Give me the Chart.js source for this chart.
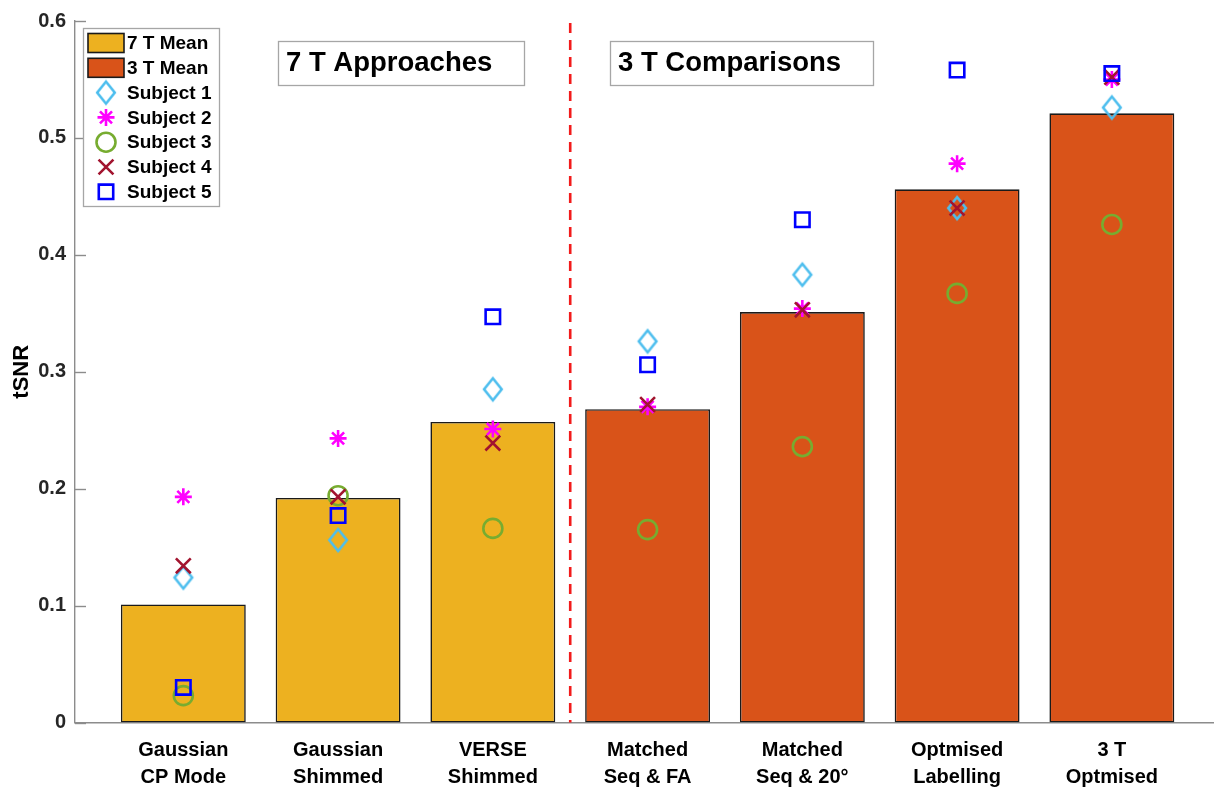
<!DOCTYPE html>
<html>
<head>
<meta charset="utf-8">
<title>tSNR by approach</title>
<script src="https://cdn.jsdelivr.net/npm/chart.js@4.4.1/dist/chart.umd.min.js"></script>
<style>
  html, body { margin: 0; padding: 0; background: #ffffff; overflow: hidden; }
  #wrap { width: 1214px; height: 791px; position: relative; }
  #wrap canvas { display: block; }
</style>
</head>
<body>
<div id="wrap"><canvas id="chart"></canvas></div>
<script>
// Category labels (two lines each)
const categories = [
  ['Gaussian', 'CP Mode'],
  ['Gaussian', 'Shimmed'],
  ['VERSE', 'Shimmed'],
  ['Matched', 'Seq & FA'],
  ['Matched', 'Seq & 20°'],
  ['Optmised', 'Labelling'],
  ['3 T', 'Optmised']
];
const categoryPositions = [1, 2, 3, 4, 5, 6, 7];

// Group means (first three 7 T, last four 3 T)
const mean7T = [0.101, 0.192, 0.257];
const mean3T = [0.268, 0.351, 0.456, 0.521];

// Per-subject tSNR values for each category
const subject1 = [0.124, 0.156, 0.285, 0.326, 0.383, 0.440, 0.526];
const subject2 = [0.193, 0.243, 0.251, 0.270, 0.354, 0.478, 0.550];
const subject3 = [0.023, 0.194, 0.166, 0.165, 0.236, 0.367, 0.426];
const subject4 = [0.134, 0.193, 0.239, 0.272, 0.353, 0.440, 0.552];
const subject5 = [0.030, 0.177, 0.347, 0.306, 0.430, 0.558, 0.555];

const yTicks = [0, 0.1, 0.2, 0.3, 0.4, 0.5, 0.6];
const panelTitles = ['7 T Approaches', '3 T Comparisons'];
const dividerAt = 3.5;

const COL7 = '#EDB120';
const COL3 = '#D95319';
const FONT = '"Liberation Sans", Arial, Helvetica, sans-serif';

// Tall diamond marker drawn on its own canvas
function makeDiamond(color) {
  const c = document.createElement('canvas');
  c.width = 24; c.height = 28;
  const g = c.getContext('2d');
  g.strokeStyle = color;
  g.lineWidth = 2.6;
  g.lineJoin = 'miter';
  g.beginPath();
  g.moveTo(12, 3);
  g.lineTo(20.8, 14);
  g.lineTo(12, 25);
  g.lineTo(3.2, 14);
  g.closePath();
  g.stroke();
  return c;
}
const diamondImg = makeDiamond('#4DBEEE');

function pts(xs, ys) { return xs.map((x, i) => ({ x: x, y: ys[i] })); }

function subjectSet(label, values, color, style, radius, order) {
  return {
    type: 'scatter',
    label: label,
    data: pts(categoryPositions, values),
    showLine: false,
    pointStyle: style,
    pointRadius: radius,
    pointBorderWidth: 2.6,
    pointBorderColor: color,
    pointBackgroundColor: 'rgba(0,0,0,0)',
    order: order
  };
}

const datasets = [
  {
    type: 'bar', label: '7 T Mean',
    data: pts(categoryPositions.slice(0, 3), mean7T),
    backgroundColor: COL7, borderColor: '#1a1a1a', borderWidth: 1.6,
    borderSkipped: false, grouped: false,
    barPercentage: 0.807, categoryPercentage: 1.0, order: 20
  },
  {
    type: 'bar', label: '3 T Mean',
    data: pts(categoryPositions.slice(3), mean3T),
    backgroundColor: COL3, borderColor: '#1a1a1a', borderWidth: 1.6,
    borderSkipped: false, grouped: false,
    barPercentage: 0.807, categoryPercentage: 1.0, order: 19
  },
  subjectSet('Subject 1', subject1, '#4DBEEE', diamondImg, 10, 5),
  subjectSet('Subject 2', subject2, '#FF00FF', 'star', 8.5, 4),
  subjectSet('Subject 3', subject3, '#77AC30', 'circle', 9.5, 3),
  subjectSet('Subject 4', subject4, '#A2142F', 'crossRot', 10.5, 2),
  subjectSet('Subject 5', subject5, '#0000FF', 'rect', 10.2, 1)
];

// Inward y tick marks, divider line, panel titles and the boxed legend
const overlay = {
  id: 'overlay',
  afterDatasetsDraw(chart) {
    const ctx = chart.ctx;
    const area = chart.chartArea;
    const xs = chart.scales.x;
    const ys = chart.scales.y;

    // inward tick marks on the y axis
    ctx.save();
    ctx.strokeStyle = '#8c8c8c';
    ctx.lineWidth = 1.4;
    yTicks.forEach(v => {
      const py = Math.round(ys.getPixelForValue(v)) + 0.5;
      ctx.beginPath();
      ctx.moveTo(area.left, py);
      ctx.lineTo(area.left + 11, py);
      ctx.stroke();
    });
    ctx.restore();

    // dashed divider between the two groups
    const dx = xs.getPixelForValue(dividerAt);
    ctx.save();
    ctx.strokeStyle = '#F21B1B';
    ctx.lineWidth = 2.6;
    ctx.setLineDash([10, 7]);
    ctx.beginPath();
    ctx.moveTo(dx, area.top + 2);
    ctx.lineTo(dx, area.bottom);
    ctx.stroke();
    ctx.restore();

    // panel titles in boxes
    const boxes = [
      { text: panelTitles[0], x: 278, w: 246 },
      { text: panelTitles[1], x: 610, w: 263 }
    ];
    ctx.save();
    boxes.forEach(b => {
      ctx.fillStyle = '#ffffff';
      ctx.fillRect(b.x, 41, b.w, 44);
      ctx.strokeStyle = '#a6a6a6';
      ctx.lineWidth = 1.3;
      ctx.strokeRect(b.x + 0.5, 41.5, b.w, 44);
      ctx.fillStyle = '#000000';
      ctx.font = 'bold 27.5px ' + FONT;
      ctx.textBaseline = 'middle';
      ctx.textAlign = 'left';
      ctx.fillText(b.text, b.x + 8, 63);
    });
    ctx.restore();

    // legend
    ctx.save();
    const lx = 83, ly = 28, lw = 136, lh = 178;
    ctx.fillStyle = '#ffffff';
    ctx.fillRect(lx, ly, lw, lh);
    ctx.strokeStyle = '#a6a6a6';
    ctx.lineWidth = 1.3;
    ctx.strokeRect(lx + 0.5, ly + 0.5, lw, lh);
    ctx.font = 'bold 19px ' + FONT;
    ctx.textBaseline = 'middle';
    ctx.textAlign = 'left';
    const rowY = i => 43 + i * 24.8;
    chart.data.datasets.forEach((ds, i) => {
      const cy = rowY(i);
      if (ds.type === 'bar') {
        ctx.fillStyle = ds.backgroundColor;
        ctx.fillRect(88, cy - 9.5, 36, 19);
        ctx.strokeStyle = '#1a1a1a';
        ctx.lineWidth = 1.6;
        ctx.strokeRect(88, cy - 9.5, 36, 19);
      } else {
        ctx.save();
        ctx.strokeStyle = ds.pointBorderColor;
        ctx.fillStyle = 'rgba(0,0,0,0)';
        ctx.lineWidth = ds.pointBorderWidth;
        Chart.helpers.drawPoint(ctx, {
          pointStyle: ds.pointStyle,
          radius: ds.pointRadius,
          rotation: 0,
          borderWidth: ds.pointBorderWidth
        }, 106, cy);
        ctx.restore();
      }
      ctx.fillStyle = '#000000';
      ctx.fillText(ds.label, 127, cy + 1);
    });
    ctx.restore();
  }
};

new Chart(document.getElementById('chart'), {
  data: { datasets: datasets },
  options: {
    responsive: true,
    maintainAspectRatio: false,
    animation: false,
    events: [],
    layout: { autoPadding: false, padding: { top: 18, right: 0, left: 0, bottom: 0 } },
    plugins: { legend: { display: false }, tooltip: { enabled: false } },
    scales: {
      x: {
        type: 'linear',
        offset: false,
        min: 0.3,
        max: 7.66,
        afterBuildTicks(s) { s.ticks = categoryPositions.map(v => ({ value: v })); },
        afterFit(s) { s.height = 68.5; s.paddingLeft = 0; s.paddingRight = 0; },
        grid: { display: false, drawTicks: false, offset: false },
        border: { display: true, color: '#8c8c8c', width: 1.4 },
        ticks: {
          autoSkip: false,
          maxRotation: 0,
          padding: 14,
          color: '#000000',
          font: { family: FONT, size: 20, weight: 'bold', lineHeight: 1.35 },
          callback: v => categories[Math.round(v) - 1] || ''
        }
      },
      y: {
        min: 0,
        max: 0.6,
        afterBuildTicks(s) { s.ticks = yTicks.map(v => ({ value: v })); },
        afterFit(s) { s.width = 75; },
        grid: { display: false, drawTicks: false },
        border: { display: true, color: '#8c8c8c', width: 1.4 },
        ticks: {
          padding: 9,
          color: '#262626',
          font: { family: FONT, size: 20, weight: 'bold' },
          callback: v => (v === 0 ? '0' : v.toFixed(1))
        },
        title: {
          display: true,
          text: 'tSNR',
          color: '#000000',
          padding: { top: 9, bottom: 0 },
          font: { family: FONT, size: 22, weight: 'bold' }
        }
      }
    }
  },
  plugins: [overlay]
});
</script>
</body>
</html>
